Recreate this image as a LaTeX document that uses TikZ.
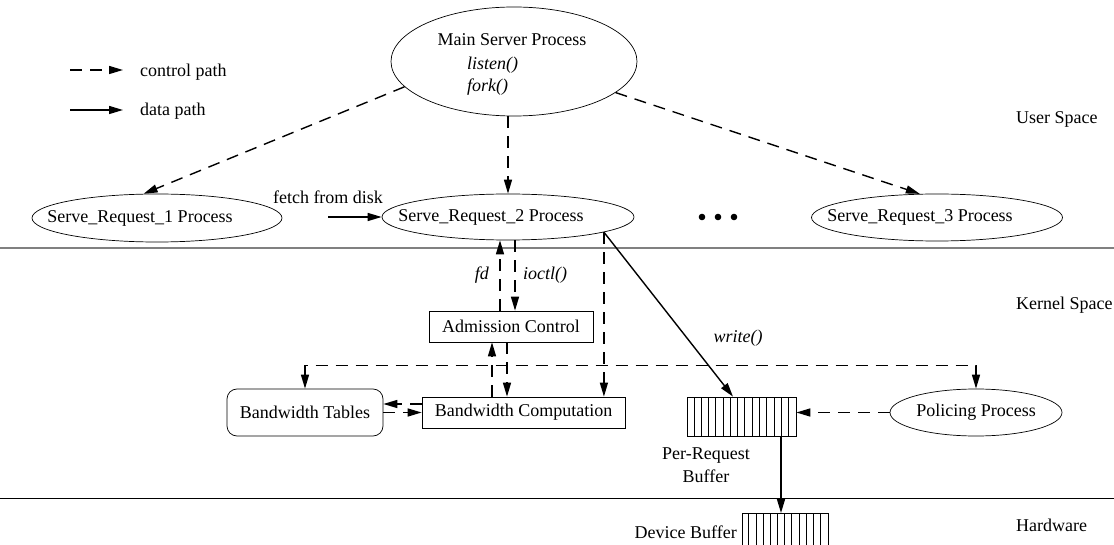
\documentclass[tikz,border=0pt]{standalone}
\usepackage{fontspec}
\setmainfont{Liberation Serif}
\usetikzlibrary{shapes.geometric,arrows.meta}

\tikzset{
    proc/.style={draw, ellipse, line width=0.7pt},
    box/.style={draw, rectangle, line width=0.7pt},
    ctrl/.style={line width=1.4pt, dash pattern=on 12pt off 8pt, ->},
    data/.style={line width=1.4pt, ->},
}

\begin{document}
\begin{tikzpicture}[x=1pt, y=-1pt, inner sep=0pt, font=\fontsize{18}{23}\selectfont,
        >={Triangle[length=14pt,width=8pt]}]
    \clip (0,0) rectangle (1114,545);
    % layer boundaries
    \draw[gray, line width=1.5pt] (0,248) -- (1114,248);
    \draw[line width=0.8pt] (0,498) -- (1114,498);
    \node[anchor=west] (user) at (1016,119) {User Space};
    \node[anchor=west] (kernel) at (1016,305) {Kernel Space};
    \node[anchor=west] (hw) at (1016,525) {Hardware};

    % legend
    \coordinate (c1) at (70,70);
    \coordinate (c2) at (123,70);
    \coordinate (d1) at (70,110);
    \coordinate (d2) at (123,110);
    \draw[ctrl] (c1) -- (c2);
    \draw[data] (d1) -- (d2);
    \node[anchor=west] (ctrltxt) at (140,72) {control path};
    \node[anchor=west] (datatxt) at (140,111) {data path};

    % user space processes
    \node[proc, minimum width=246pt, minimum height=109pt] (main) at (514,61.5) {};
    \node (maintxt) at (512,40) {Main Server Process};
    \node[anchor=west] (listen) at (467,65) {\textit{listen()}};
    \node[anchor=west] (fork) at (467,87) {\textit{fork()}};
    \node[proc, minimum width=250pt, minimum height=48pt] (sr1) at (157,218) {};
    \node (sr1txt) at ([xshift=-17pt]sr1.center) {Serve\_Request\_1 Process};
    \node[proc, minimum width=252pt, minimum height=46pt] (sr2) at (508,217) {};
    \node (sr2txt) at ([xshift=-17pt]sr2.center) {Serve\_Request\_2 Process};
    \node[proc, minimum width=251pt, minimum height=47pt] (sr3) at (937,217.5) {};
    \node (sr3txt) at ([xshift=-17pt]sr3.center) {Serve\_Request\_3 Process};
    \foreach \x in {702,718,734}
        \fill (\x,217) circle (3.3pt);

    \draw[ctrl] (main.193) -- (sr1.119);
    \draw[ctrl] (main.south -| sr2.north) -- (sr2.north);
    \draw[ctrl] (main.343) -- (sr3.126);

    \coordinate (disk) at (328,217);
    \node (fetch) at (328,197) {fetch from disk};
    \draw[data] (disk) -- (sr2.west);

    % kernel space
    \node[box, minimum width=164pt, minimum height=31pt] (ac) at (511,326.5) {Admission Control};
    \node[box, minimum width=203pt, minimum height=31pt] (bc) at (523.5,412.5) {Bandwidth Computation};
    \node[box, rounded corners=10pt, minimum width=156pt, minimum height=47pt] (bt) at (305,412.5) {Bandwidth Tables};
    \node[proc, minimum width=172pt, minimum height=47pt] (pp) at (976,412.5) {Policing Process};

    \node[box, minimum width=109pt, minimum height=39pt] (prb) at (741.5,416.5) {};
    \foreach \i in {1,...,14}
        \draw[line width=0.7pt] ([xshift=\i*109/15]prb.south west) -- ([xshift=\i*109/15]prb.north west);
    \node[align=center] (prbtxt) at (706,465) {Per-Request\\Buffer};

    \draw[ctrl] ([xshift=-11pt]ac.north) -- ([xshift=-8pt]sr2.south);
    \draw[ctrl] ([xshift=7pt]sr2.south) -- ([xshift=4pt]ac.north);
    \node (fd) at (482,275) {\textit{fd}};
    \node (ioctl) at (545,275) {\textit{ioctl()}};

    \draw[ctrl] ([xshift=-19pt]ac.south |- bc.north) -- ([xshift=-19pt]ac.south);
    \draw[ctrl] ([xshift=-4pt]ac.south) -- ([xshift=-4pt]ac.south |- bc.north);
    \draw[ctrl, <->] (bt.north) -- ++(0,-23) -| (pp.north);
    \draw[ctrl] ([yshift=8.5pt]bc.west) -- ([yshift=8.5pt]bt.east);
    \draw[ctrl] (bt.east) -- (bc.west);

    \coordinate (wr) at (sr2.-9);
    \draw[ctrl] (wr) -- (wr |- bc.north);
    \draw[data] (wr) -- ([xshift=-8.5pt]prb.north);
    \node (write) at (738,338) {\textit{write()}};
    \draw[ctrl] (pp.west) -- (pp.west -| prb.east);

    % hardware
    \node[box, minimum width=86pt, minimum height=40pt, anchor=north] (db) at (785,513) {};
    \foreach \i in {1,...,11}
        \draw[line width=0.7pt] ([xshift=\i*86/12]db.south west) -- ([xshift=\i*86/12]db.north west);
    \node[anchor=east] (dbtxt) at (737,532) {Device Buffer};
    \draw[data] ([xshift=39.5pt]prb.south) -- ([xshift=39.5pt]prb.south |- db.north);
\end{tikzpicture}
\end{document}
